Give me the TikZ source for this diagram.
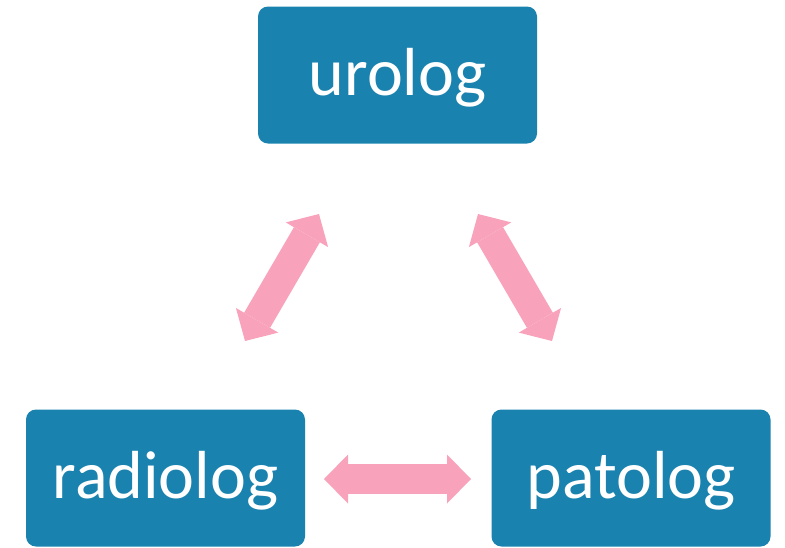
\documentclass[tikz,border=0pt]{standalone}
\usepackage{fontspec}
\setmainfont{Carlito}
\usetikzlibrary{arrows.meta}
\definecolor{boxblue}{HTML}{1982AE}
\definecolor{arrowpink}{HTML}{F8A3BB}
\tikzset{
  rolebox/.style={fill=boxblue, draw=none, rounded corners=10pt,
    minimum width=279pt, minimum height=137pt, inner sep=0pt,
    text=white, font=\fontsize{68}{80}\selectfont,
    text height=48pt, text depth=8pt},
  linkarrow/.style={draw=arrowpink, line width=30pt, line cap=butt,
    arrows={Triangle[length=24pt,width=49pt,line width=0pt,fill=arrowpink]-Triangle[length=24pt,width=49pt,line width=0pt,fill=arrowpink]}}
}
\begin{document}
\begin{tikzpicture}[x=1pt,y=-1pt]
\useasboundingbox (0,0) rectangle (785,547);
\node[rolebox] (uro) at (397.5,75) {urolog};
\node[rolebox] (rad) at (165.5,478) {radiolog};
\node[rolebox] (pat) at (631,478) {patolog};
\coordinate (ul1) at (245,341);
\coordinate (ul2) at (319,214);
\coordinate (ur1) at (478,214);
\coordinate (ur2) at (552,341);
\coordinate (h1) at (324,479);
\coordinate (h2) at (471,479);
\draw[linkarrow] (ul1) -- (ul2);
\draw[linkarrow] (ur1) -- (ur2);
\draw[linkarrow] (h1) -- (h2);
\end{tikzpicture}
\end{document}
